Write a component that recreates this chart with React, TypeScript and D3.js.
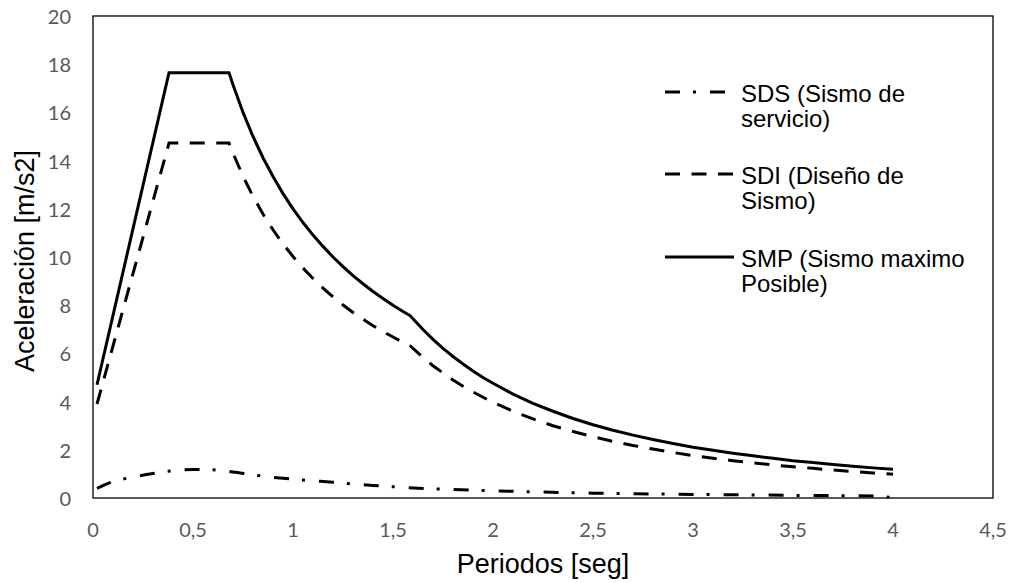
import React from "react";
import * as d3 from "d3";

// Periods (s) for SDI / SMP curves
const periods = [
  0.02, 0.38, 0.68,
  0.7, 0.75, 0.8, 0.85, 0.9, 0.95, 1.0, 1.05, 1.1, 1.15, 1.2, 1.25, 1.3, 1.35, 1.4, 1.45, 1.5, 1.55,
  1.585,
  1.65, 1.7, 1.75, 1.8, 1.85, 1.9, 1.95,
  2.0, 2.1, 2.2, 2.3, 2.4, 2.5, 2.6, 2.7, 2.8, 2.9, 3.0, 3.1, 3.2, 3.3, 3.4, 3.5, 3.6, 3.7, 3.8, 3.9, 4.0,
];
const smpValues = [
  4.7, 17.65, 17.65,
  17.15, 16.0, 15.0, 14.12, 13.34, 12.63, 12.0, 11.43, 10.91, 10.44, 10.0, 9.6, 9.23, 8.89, 8.57, 8.28, 8.0, 7.74,
  7.57,
  6.99, 6.58, 6.21, 5.87, 5.56, 5.27, 5.0,
  4.76, 4.31, 3.93, 3.6, 3.3, 3.04, 2.81, 2.61, 2.43, 2.26, 2.11, 1.98, 1.86, 1.75, 1.65, 1.55, 1.47, 1.39, 1.32, 1.25, 1.19,
];
const sdiValues = [
  3.9, 14.73, 14.73,
  14.31, 13.35, 12.52, 11.78, 11.13, 10.54, 10.02, 9.54, 9.11, 8.71, 8.35, 8.01, 7.7, 7.42, 7.15, 6.91, 6.68, 6.46,
  6.32,
  5.83, 5.49, 5.19, 4.9, 4.64, 4.4, 4.18,
  3.97, 3.6, 3.28, 3.0, 2.76, 2.54, 2.35, 2.18, 2.03, 1.89, 1.76, 1.65, 1.55, 1.46, 1.37, 1.3, 1.23, 1.16, 1.1, 1.04, 0.99,
];

// Periods (s) for SDS curve
const sdsPeriods = [0.02, 0.1, 0.2, 0.3, 0.4, 0.5, 0.6, 0.7, 0.8, 0.9, 1.0, 1.2, 1.4, 1.6, 1.8, 2.0, 2.5, 3.0, 3.5, 3.9, 4.0];
const sdsValues = [0.4, 0.68, 0.87, 1.02, 1.13, 1.18, 1.17, 1.08, 0.96, 0.86, 0.78, 0.65, 0.52, 0.42, 0.35, 0.3, 0.2, 0.15, 0.11, 0.08, 0.02];

const xTicks = [0, 0.5, 1, 1.5, 2, 2.5, 3, 3.5, 4, 4.5];
const yTicks = [0, 2, 4, 6, 8, 10, 12, 14, 16, 18, 20];

const legendItems = [
  { lines: ["SDS (Sismo de", "servicio)"], dash: "15 13 3 14" },
  { lines: ["SDI (Diseño de", "Sismo)"], dash: "15 11.5" },
  { lines: ["SMP (Sismo maximo", "Posible)"], dash: "none" },
];

const W = 1016;
const H = 583;
const plot = { left: 93, right: 993, top: 16, bottom: 498 };

export default function App() {
  const x = d3.scaleLinear().domain([0, 4.5]).range([plot.left, plot.right]);
  const y = d3.scaleLinear().domain([0, 20]).range([plot.bottom, plot.top]);

  const lin = d3
    .line<[number, number]>()
    .x((d) => x(d[0]))
    .y((d) => y(d[1]));
  const smooth = d3
    .line<[number, number]>()
    .x((d) => x(d[0]))
    .y((d) => y(d[1]))
    .curve(d3.curveMonotoneX);

  const smpPath = lin(periods.map((p, i) => [p, smpValues[i]] as [number, number])) || "";
  const sdiPath = lin(periods.map((p, i) => [p, sdiValues[i]] as [number, number])) || "";
  const sdsPath = smooth(sdsPeriods.map((p, i) => [p, sdsValues[i]] as [number, number])) || "";

  const legendY = [92, 174, 257];
  const fmt = (v: number) => String(v).replace(".", ",");

  return (
    <svg
      width={W}
      height={H}
      style={{ position: "absolute", left: 0, top: 0, background: "#fff" }}
    >
      <rect x={0} y={0} width={W} height={H} fill="#fff" />
      {yTicks.map((t) => (
        <text
          key={"y" + t}
          x={71}
          y={y(t)}
          textAnchor="end"
          dominantBaseline="central"
          fontFamily="Lato, 'Open Sans', sans-serif"
          fontSize={20}
          fill="#595959"
        >
          {t}
        </text>
      ))}
      {xTicks.map((t) => (
        <text
          key={"x" + t}
          x={x(t)}
          y={537}
          textAnchor="middle"
          fontFamily="Lato, 'Open Sans', sans-serif"
          fontSize={20}
          fill="#595959"
        >
          {fmt(t)}
        </text>
      ))}
      <rect
        x={plot.left}
        y={plot.top}
        width={plot.right - plot.left}
        height={plot.bottom - plot.top}
        fill="none"
        stroke="#000"
        strokeWidth={1.3}
      />
      <path d={sdsPath} fill="none" stroke="#000" strokeWidth={3} strokeDasharray="15 13 3 14" />
      <path d={sdiPath} fill="none" stroke="#000" strokeWidth={3} strokeDasharray="15 11.5" />
      <path d={smpPath} fill="none" stroke="#000" strokeWidth={3} strokeLinejoin="miter" />
      {legendItems.map((item, i) => (
        <g key={"lg" + i}>
          <line
            x1={665}
            x2={734}
            y1={legendY[i]}
            y2={legendY[i]}
            stroke="#000"
            strokeWidth={3}
            strokeDasharray={item.dash}
          />
          {item.lines.map((ln, j) => (
            <text
              key={j}
              x={741}
              y={legendY[i] + 9.5 + j * 25.5}
              fontFamily="'Liberation Sans', Arial, sans-serif"
              fontSize={24}
              fill="#000"
            >
              {ln}
            </text>
          ))}
        </g>
      ))}
      <text
        x={(plot.left + plot.right) / 2}
        y={573}
        textAnchor="middle"
        fontFamily="'Liberation Sans', Arial, sans-serif"
        fontSize={27}
        fill="#000"
      >
        Periodos [seg]
      </text>
      <text
        transform={`translate(34, ${(plot.top + plot.bottom) / 2 + 4}) rotate(-90)`}
        textAnchor="middle"
        fontFamily="'Liberation Sans', Arial, sans-serif"
        fontSize={27}
        fill="#000"
      >
        Aceleración [m/s2]
      </text>
    </svg>
  );
}
